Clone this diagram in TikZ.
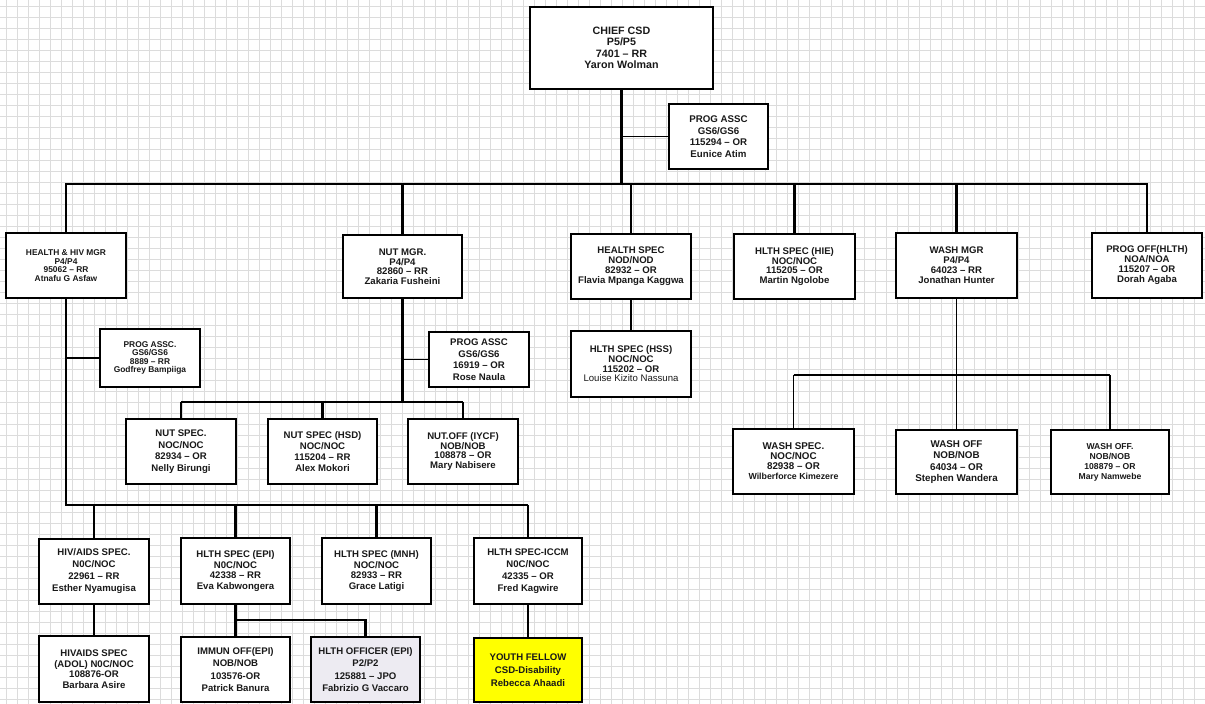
\documentclass[tikz,border=0pt]{standalone}
\usepackage{fontspec}
\setmainfont{Liberation Sans}
\definecolor{gridc}{HTML}{DCDCDC}
\definecolor{lav}{HTML}{EDEBF2}
\definecolor{yel}{HTML}{FFFF00}
\newcommand\obox[9]{\node[bx,minimum width={(#4-#2)*1pt},minimum height={(#5-#3)*1pt},font={\fontsize{#6}{#7}\selectfont\bfseries},#9] (#1) at ({(#2+#4)/2},{(#3+#5)/2}) {#8};}
\begin{document}
\begin{tikzpicture}[x=1pt,y=-1pt,
  bx/.style={draw=black,line width=1.7pt,fill=white,align=center,inner sep=0pt,text=black!90},
  gridline/.style={draw=gridc,line width=0.9pt},
  trunk/.style={draw=black,line width=2.8pt},
  drop/.style={draw=black,line width=2.1pt},
  conn/.style={draw=black,line width=1.5pt}]
\useasboundingbox (0,0) rectangle (1205,704);
\fill[white] (0,0) rectangle (1205,704);
\foreach \i in {0,...,109} \draw[gridline] ({6+11*\i},0) -- ({6+11*\i},704);
\foreach \j in {0,...,63} \draw[gridline] (0,{6+11*\j}) -- (1205,{6+11*\j});

% boxes
\obox{chief}{530}{7}{713}{89}{10.7}{11.5}{CHIEF CSD\\P5/P5\\7401 – RR\\Yaron Wolman}{}
\obox{pa1}{669}{104}{768}{169}{9.7}{11.5}{PROG ASSC\\GS6/GS6\\115294 – OR\\Eunice Atim}{}
\obox{hh}{6}{233}{126}{298}{8.4}{8.5}{HEALTH \& HIV MGR\\P4/P4\\95062 – RR\\Atnafu G Asfaw}{}
\obox{nut}{343}{235}{462}{298}{9.6}{9.5}{NUT MGR.\\P4/P4\\82860 – RR\\Zakaria Fusheini}{}
\obox{hs}{571}{234}{691}{299}{9.6}{10}{HEALTH SPEC\\NOD/NOD\\82932 – OR\\Flavia Mpanga Kaggwa}{}
\obox{hie}{734}{234}{855}{299}{9.6}{9.5}{HLTH SPEC (HIE)\\NOC/NOC\\115205 – OR\\Martin Ngolobe}{}
\obox{wash}{896}{233}{1017}{298}{9.6}{10}{WASH MGR\\P4/P4\\64023 – RR\\Jonathan Hunter}{}
\obox{po}{1092}{233}{1202}{298}{9.6}{10}{PROG OFF(HLTH)\\NOA/NOA\\115207 – OR\\Dorah Agaba}{}

\obox{pa2}{100}{329}{200}{387}{8.4}{8.3}{PROG ASSC.\\GS6/GS6\\8889 – RR\\Godfrey Bampiiga}{}
\obox{pa3}{429}{332}{529}{387}{9.6}{11.5}{PROG ASSC\\GS6/GS6\\16919 – OR\\Rose Naula}{}
\obox{hss}{571}{331}{691}{397}{9.6}{9.7}{HLTH SPEC (HSS)\\NOC/NOC\\115202 – OR\\{\mdseries Louise Kizito Nassuna}}{}

\obox{ns}{126}{419}{236}{484}{9.6}{11.5}{NUT SPEC.\\NOC/NOC\\82934 – OR\\Nelly Birungi}{}
\obox{nsh}{268}{419}{377}{484}{9.6}{11}{NUT SPEC (HSD)\\NOC/NOC\\115204 – RR\\Alex Mokori}{}
\obox{no}{408}{419}{518}{484}{9.6}{9.8}{NUT.OFF (IYCF)\\NOB/NOB\\108878 – OR\\Mary Nabisere}{}

\obox{ws}{733}{429}{854}{494}{9.8}{10}{WASH SPEC.\\NOC/NOC\\82938 – OR\\{\fontsize{8.8}{10}\selectfont Wilberforce Kimezere}}{}
\obox{wo}{896}{430}{1017}{494}{9.8}{11.5}{WASH OFF\\NOB/NOB\\64034 – OR\\Stephen Wandera}{}
\obox{wo2}{1051}{430}{1169}{494}{8.6}{10}{WASH OFF.\\NOB/NOB\\108879 – OR\\Mary Namwebe}{}

\obox{hiv}{39}{539}{149}{604}{9.6}{12}{HIV/AIDS SPEC.\\N0C/NOC\\22961 – RR\\Esther Nyamugisa}{}
\obox{epi}{181}{538}{290}{604}{9.6}{10.5}{HLTH SPEC (EPI)\\N0C/NOC\\42338 – RR\\Eva Kabwongera}{}
\obox{mnh}{322}{538}{431}{604}{9.6}{10.5}{HLTH SPEC (MNH)\\NOC/NOC\\82933 – RR\\Grace Latigi}{}
\obox{iccm}{474}{538}{582}{604}{9.6}{12}{HLTH SPEC-ICCM\\N0C/NOC\\42335 – OR\\Fred Kagwire}{}

\obox{adol}{39}{636}{149}{702}{9.6}{10.5}{HIVAIDS SPEC\\(ADOL) N0C/NOC\\108876-OR\\Barbara Asire}{}
\obox{imm}{181}{637}{290}{702}{9.6}{12.5}{IMMUN OFF(EPI)\\NOB/NOB\\103576-OR\\Patrick Banura}{}
\obox{ho}{311}{637}{420}{702}{9.6}{12.5}{HLTH OFFICER (EPI)\\P2/P2\\125881 – JPO\\Fabrizio G Vaccaro}{fill=lav}
\obox{yf}{474}{638}{582}{702}{9.6}{12.7}{YOUTH FELLOW\\CSD-Disability\\Rebecca Ahaadi}{fill=yel}

% connectors
\coordinate (bus) at (0,184);
\coordinate (hbus) at (0,505);
\coordinate (nbus) at (0,402);
\coordinate (wbus) at (0,375);
\coordinate (ebus) at (0,620);

\draw[trunk] (chief.south) -- (chief.south |- bus);
\draw[conn] (chief.south |- pa1.west) -- (pa1.west);
\draw[trunk,line cap=rect] (hh.north |- bus) -- (po.north |- bus);
\foreach \n in {hh,nut,hs,hie,wash,po} \draw[drop] (\n.north) -- (\n.north |- bus);

\draw[trunk,line join=miter] (hh.south) -- (hh.south |- hbus) -- (iccm.north |- hbus);
\draw[conn] (hh.south |- pa2.west) -- (pa2.west);
\foreach \n in {hiv,epi,mnh,iccm} \draw[drop] (\n.north) -- (\n.north |- hbus);

\draw[drop] (nut.south) -- (nut.south |- nbus);
\draw[drop] (ns.north |- nbus) -- (no.north |- nbus);
\foreach \n in {ns,nsh,no} \draw[drop] (\n.north) -- (\n.north |- nbus);
\draw[conn] (nut.south |- pa3.west) -- (pa3.west);

\draw[drop] (hs.south) -- (hss.north);

\draw[conn] (wash.south) -- (wash.south |- wbus);
\draw[conn] (ws.north |- wbus) -- (wo2.north |- wbus);
\foreach \n in {ws,wo,wo2} \draw[conn] (\n.north) -- (\n.north |- wbus);

\draw[drop] (hiv.south) -- (adol.north);
\draw[drop] (epi.south) -- (epi.south |- ebus) -- (ho.north |- ebus) -- (ho.north);
\draw[drop] (epi.south |- ebus) -- (imm.north);
\draw[drop] (iccm.south) -- (yf.north);
\end{tikzpicture}
\end{document}
